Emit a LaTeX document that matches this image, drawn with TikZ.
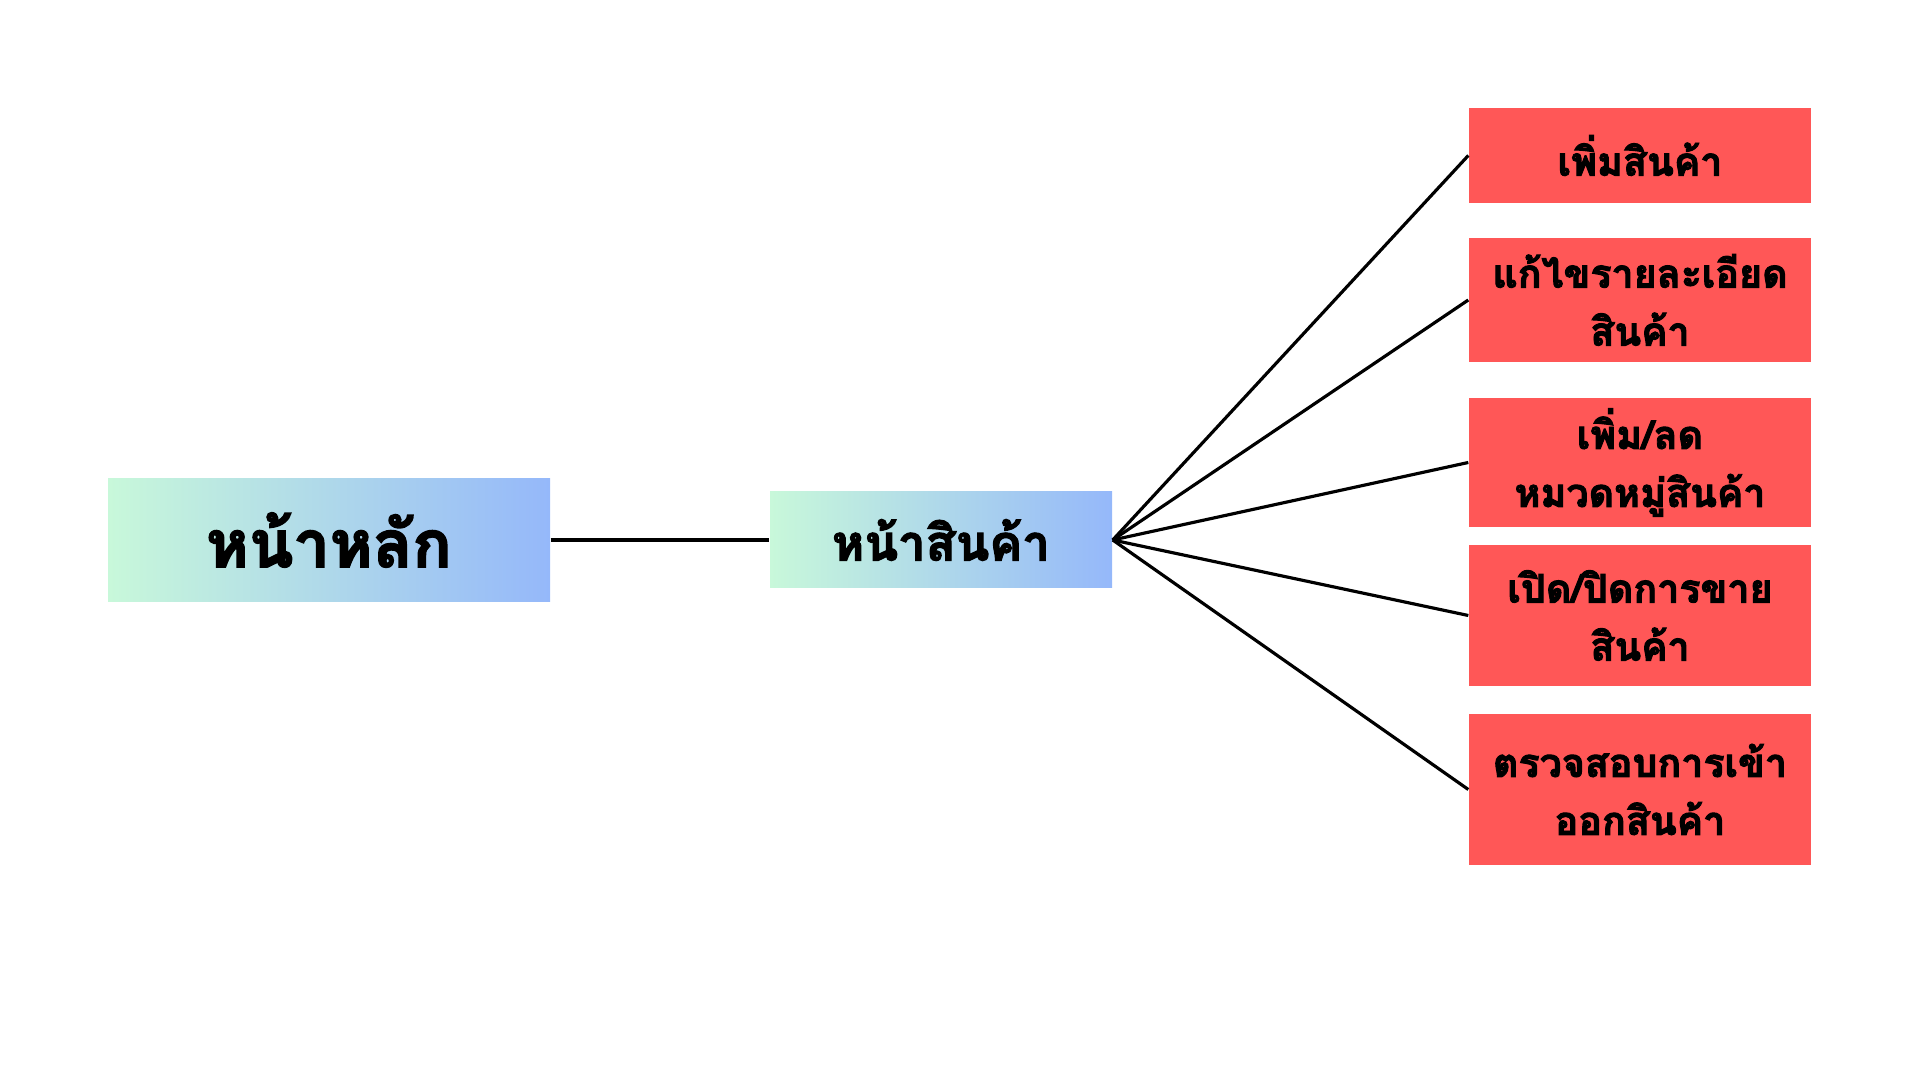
\documentclass[tikz,border=0pt]{standalone}
\usepackage{fontspec}
\newfontfamily\thaifont[Script=Thai, BoldFeatures={FakeBold=2.5}]{Loma}
\usetikzlibrary{positioning}

\definecolor{mintgreen}{HTML}{C8F8DA}
\definecolor{skyblue}{HTML}{95B8FA}
\definecolor{salmonred}{HTML}{FF5757}

\tikzset{
    gradbox/.style={shading=axis, left color=mintgreen, right color=skyblue,
        shading angle=90, inner sep=0pt, font=\thaifont\bfseries},
    taskbox/.style={fill=salmonred, inner sep=0pt, minimum width=3.42cm,
        align=center, font=\thaifont\bfseries\fontsize{11.2}{16.5}\selectfont},
    link/.style={line width=0.9pt}
}

\begin{document}
\begin{tikzpicture}
        \useasboundingbox (0,0) rectangle (19.2,10.8);
        % left part
        \node[gradbox, minimum width=4.42cm, minimum height=1.23cm,
              font=\thaifont\bfseries\fontsize{18.5}{22}\selectfont] (home) at (3.29,5.40) {หน้าหลัก};
        \node[gradbox, minimum width=3.42cm, minimum height=0.96cm,
              font=\thaifont\bfseries\fontsize{14}{17}\selectfont] (product) at (9.41,5.40) {หน้าสินค้า};
        \draw[link] (home.east) -- (product.west);
        % product tasks
        \node[taskbox, minimum height=0.95cm] (add) at (16.40,9.245) {เพิ่มสินค้า};
        \node[taskbox, minimum height=1.24cm] (edit) at (16.40,7.80) {แก้ไขรายละเอียด\\สินค้า};
        \node[taskbox, minimum height=1.29cm] (category) at (16.40,6.175) {เพิ่ม/ลด\\หมวดหมู่สินค้า};
        \node[taskbox, minimum height=1.41cm] (sale) at (16.40,4.645) {เปิด/ปิดการขาย\\สินค้า};
        \node[taskbox, minimum height=1.51cm] (stock) at (16.40,2.905) {ตรวจสอบการเข้า\\ออกสินค้า};
        \foreach \t in {add,edit,category,sale,stock}
            \draw[link] (product.east) -- (\t.west);
    \end{tikzpicture}
\end{document}
